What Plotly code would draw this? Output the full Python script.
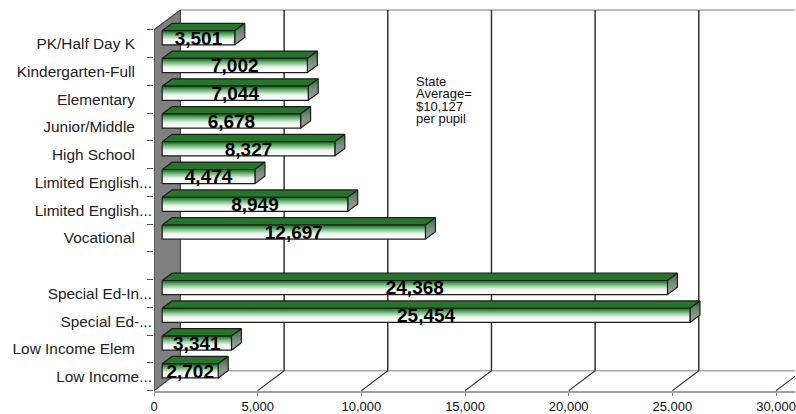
import plotly.graph_objects as go

# Per-pupil spending by program, drawn top to bottom; the empty row separates the groups.
categories = ["PK/Half Day K", "Kindergarten-Full", "Elementary", "Junior/Middle", "High School",
              "Limited English...", "Limited English...", "Vocational", "",
              "Special Ed-In...", "Special Ed-...", "Low Income Elem", "Low Income..."]
spending = [3501, 7002, 7044, 6678, 8327, 4474, 8949, 12697, None, 24368, 25454, 3341, 2702]
x_ticks = [0, 5000, 10000, 15000, 20000, 25000, 30000]
note_lines = ["State", "Average=", "$10,127", "per pupil"]

# Pixel scale of the axes, used to express the oblique depth in data units.
W, H = 796, 414
LEFT, BOTTOM = 153.5, 21
PX_PER_X = (777 - LEFT) / 30000
TOP_BAND = 30.0
PX_PER_ROW = (392.7 - TOP_BAND) / 13
x_max = (W - LEFT) / PX_PER_X
y_top = -TOP_BAND / PX_PER_ROW
y_bottom = 13 + (H - BOTTOM - 392.7) / PX_PER_ROW

WALL_DX = 26.5 / PX_PER_X       # depth of the chart box
WALL_DY = 20.0 / PX_PER_ROW
BAR_X0 = 8.2 / PX_PER_X         # bars stand a little behind the front plane
BAR_SHIFT = 6.0 / PX_PER_ROW
BAR_H = 14.2 / PX_PER_ROW
BAR_DX = 10.0 / PX_PER_X        # depth of each bar
BAR_DY = 7.4 / PX_PER_ROW
LABEL_DROP = 2.0 / PX_PER_ROW

FONT = "Liberation Sans, Arial, sans-serif"
EDGE = "#1c1c1c"
fig = go.Figure()


def poly(xs, ys, fill=None, gradient=None, line=EDGE, width=1.2):
    kw = dict(fillgradient=gradient) if gradient else dict(fillcolor=fill)
    fig.add_trace(go.Scatter(x=xs + xs[:1], y=ys + ys[:1], mode="lines", fill="toself",
                             line=dict(color=line, width=width), hoverinfo="skip",
                             showlegend=False, **kw))


def lines(xs, ys, color, width):
    fig.add_trace(go.Scatter(x=xs, y=ys, mode="lines", line=dict(color=color, width=width),
                             hoverinfo="skip", showlegend=False))


# Box: back wall edges, floor and gridlines
lines([WALL_DX, x_max + WALL_DX], [-WALL_DY, -WALL_DY], "#a8a8a8", 1.5)
lines([WALL_DX, x_max + WALL_DX], [13 - WALL_DY, 13 - WALL_DY], "#a8a8a8", 1.5)
grid_x, grid_y, floor_x, floor_y = [], [], [], []
for t in x_ticks[1:]:
    grid_x += [t + WALL_DX, t + WALL_DX, None]
    grid_y += [-WALL_DY, 13 - WALL_DY, None]
    floor_x += [t, t + WALL_DX, None]
    floor_y += [13, 13 - WALL_DY, None]
lines(grid_x, grid_y, "#333333", 1.5)
lines(floor_x, floor_y, "#333333", 1.1)

# Grey side wall on the category axis
poly([0, WALL_DX, WALL_DX, 0], [0, -WALL_DY, 13 - WALL_DY, 13], fill="#808080", line="#444444", width=1.2)

# Oblique bars: top, end cap and gradient front face. Gradient stops run from the
# lower edge of each polygon (0) to its upper edge (1).
front_scale = [[0, "#ffffff"], [0.38, "#eef6ee"], [0.68, "#7fbf86"], [0.88, "#2f8a3a"], [1, "#1c6b26"]]
cap_scale = [[0, "#a6a6a6"], [0.5, "#7b8f7d"], [1, "#2f6f35"]]
for row, value in enumerate(spending):
    if value is None:
        continue
    y1 = row + 0.5 - BAR_SHIFT - BAR_H / 2
    y2 = y1 + BAR_H
    x1 = BAR_X0
    x2 = BAR_X0 + value
    poly([x1, x1 + BAR_DX, x2 + BAR_DX, x2], [y1, y1 - BAR_DY, y1 - BAR_DY, y1], fill="#26752b")
    poly([x2, x2 + BAR_DX, x2 + BAR_DX, x2], [y1, y1 - BAR_DY, y2 - BAR_DY, y2],
         gradient=dict(type="vertical", colorscale=cap_scale))
    poly([x1, x2, x2, x1], [y1, y1, y2, y2],
         gradient=dict(type="vertical", colorscale=front_scale))

# Value labels centred on each front face
shown = [(r, v) for r, v in enumerate(spending) if v is not None]
fig.add_trace(go.Scatter(
    x=[BAR_X0 + v / 2 for _, v in shown],
    y=[r + 0.5 - BAR_SHIFT + LABEL_DROP for r, _ in shown],
    text=[f"{v:,}" for _, v in shown],
    mode="text", textposition="middle center",
    textfont=dict(family=FONT, size=19, color="#000000"),
    texttemplate="<b>%{text}</b>", hoverinfo="skip", showlegend=False, cliponaxis=False))

# Side note, one annotation per line to keep the tight leading
note_x = (414.5 - LEFT) / PX_PER_X
for i, text in enumerate(note_lines):
    fig.add_annotation(x=note_x, y=(82 + i * 12.3 - TOP_BAND) / PX_PER_ROW, text=text, showarrow=False,
                       xanchor="left", yanchor="middle", align="left",
                       font=dict(family=FONT, size=13, color="#111111"))

# Shortened labels reach right up to the axis; complete ones sit further from it
tick_text = [c if c.endswith("...") else c + "\u00a0" * 4 for c in categories]

fig.update_layout(
    width=W, height=H, margin=dict(l=LEFT, r=0, t=0, b=BOTTOM, pad=0),
    paper_bgcolor="white", plot_bgcolor="white", hovermode=False, showlegend=False,
    xaxis=dict(range=[0, x_max], tickvals=x_ticks, ticktext=[f"{t:,}" for t in x_ticks],
               ticks="outside", ticklen=3, tickcolor="#888888", tickwidth=1.2,
               ticklabeloverflow="allow",
               showgrid=False, zeroline=False, showline=True, linecolor="#a0a0a0", linewidth=1.5,
               tickfont=dict(family=FONT, size=13, color="#111111")),
    yaxis=dict(range=[y_bottom, y_top], tickvals=[i + 0.5 for i in range(13)], ticktext=tick_text,
               ticks="", ticklabelstandoff=1, showgrid=False, zeroline=False, showline=False,
               minor=dict(tickvals=list(range(14)), ticks="outside", ticklen=6, tickcolor="#555555",
                          tickwidth=1, showgrid=False),
               tickfont=dict(family=FONT, size=15.4, color="#222222")),
)
fig.write_html("out.html")
